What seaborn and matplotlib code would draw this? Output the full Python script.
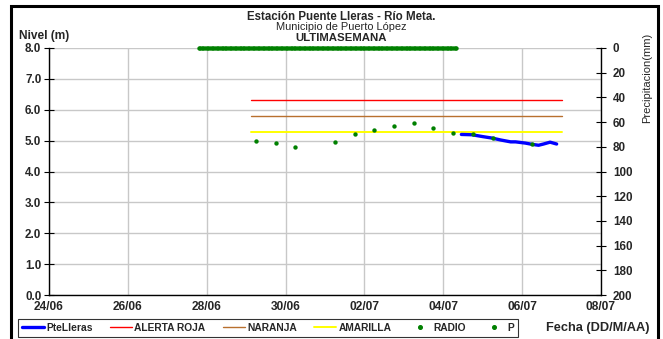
import matplotlib
matplotlib.use("Agg")
import matplotlib.pyplot as plt
import matplotlib.dates as mdates
import seaborn as sns
import pandas as pd
from matplotlib.lines import Line2D
from matplotlib.patches import Rectangle

sns.set_theme(style="white")
plt.rcParams['font.family'] = ['Liberation Sans', 'DejaVu Sans']

# ---------------- data ----------------
x_start = "2024-06-24"
x_end = "2024-07-08"

# PteLleras (automatic station level, m)
ptelleras_times = ["2024-07-04 11:00", "2024-07-04 17:30", "2024-07-05 00:00",
                   "2024-07-05 06:00", "2024-07-05 11:00", "2024-07-05 17:00",
                   "2024-07-05 20:00", "2024-07-06 02:00", "2024-07-06 06:00",
                   "2024-07-06 10:00", "2024-07-06 13:00", "2024-07-06 17:00",
                   "2024-07-06 21:00"]
ptelleras_level = [5.20, 5.19, 5.13, 5.08, 5.02, 4.96, 4.96, 4.92, 4.88,
                   4.85, 4.89, 4.95, 4.89]

# Alert thresholds (m)
threshold_times = ["2024-06-29 03:00", "2024-07-07 00:00"]
alerta_roja = [6.30, 6.30]
naranja = [5.80, 5.80]
amarilla = [5.27, 5.27]

# RADIO readings (m)
radio_times = ["2024-06-29 06:00", "2024-06-29 18:00", "2024-06-30 06:00",
               "2024-07-01 06:00", "2024-07-01 18:00", "2024-07-02 06:00",
               "2024-07-02 18:00", "2024-07-03 06:00", "2024-07-03 18:00",
               "2024-07-04 06:00", "2024-07-04 18:00", "2024-07-05 06:00",
               "2024-07-06 06:00"]
radio_level = [4.99, 4.91, 4.78, 4.96, 5.20, 5.33, 5.48, 5.58, 5.41,
               5.24, 5.20, 5.08, 4.89]

# P precipitation (mm), hourly, all zero
p_times = pd.date_range("2024-06-27 19:00", "2024-07-04 08:00", freq="h")
p_mm = [0.0] * len(p_times)

level_ticks = [0, 1, 2, 3, 4, 5, 6, 7, 8]
precip_ticks = [0, 20, 40, 60, 80, 100, 120, 140, 160, 180, 200]

# ---------------- figure ----------------
W, H = 663, 339
fig = plt.figure(figsize=(W / 100, H / 100), dpi=100)
fig.patch.set_facecolor("white")

L, R, T, B = 49, 601, 48, 295
ax = fig.add_axes([L / W, 1 - B / H, (R - L) / W, (B - T) / H])
ax2 = ax.twinx()

grid_c = "#c8c8c8"

def dt(v):
    return pd.to_datetime(pd.Series(v))

sns.lineplot(x=dt(threshold_times), y=alerta_roja, ax=ax, color="#ff0000", linewidth=1.0)
sns.lineplot(x=dt(threshold_times), y=naranja, ax=ax, color="#b8702e", linewidth=1.0)
sns.lineplot(x=dt(threshold_times), y=amarilla, ax=ax, color="#ffff00", linewidth=1.4)
sns.scatterplot(x=dt(radio_times), y=radio_level, ax=ax, color="#008000", s=10,
                linewidth=0, zorder=4)
sns.lineplot(x=dt(ptelleras_times), y=ptelleras_level, ax=ax, color="#0000ff",
             linewidth=2.4, zorder=3)
sns.scatterplot(x=p_times, y=p_mm, ax=ax2, color="#008000", s=10, linewidth=0,
                zorder=5, clip_on=False)

ax.set_xlim(pd.Timestamp(x_start), pd.Timestamp(x_end))
ax.set_ylim(0, 8)
ax.set_yticks(level_ticks)
ax.set_yticklabels([f"{v:.1f}" for v in level_ticks])
ax.set_xticks(pd.date_range(x_start, x_end, freq="2D"))
ax.xaxis.set_major_formatter(mdates.DateFormatter("%d/%m"))
ax.set_xlabel("")
ax.set_ylabel("")

ax2.set_ylim(200, 0)
ax2.set_yticks(precip_ticks)
ax2.set_ylabel("")

ax.grid(True, color=grid_c, linewidth=1.0)
ax.set_axisbelow(True)

for a in (ax, ax2):
    for s in a.spines.values():
        s.set_visible(False)
ax.spines["left"].set_visible(True)
ax.spines["bottom"].set_visible(True)
ax2.spines["right"].set_visible(True)
for s in (ax.spines["left"], ax.spines["bottom"], ax2.spines["right"]):
    s.set_color("black")
    s.set_linewidth(1.0)

ax.tick_params(axis="y", direction="inout", length=7, width=0.8, color="black",
               pad=2, labelsize=8.4, left=True)
ax.tick_params(axis="x", length=0, pad=4, labelsize=8.6)
ax2.tick_params(axis="y", direction="inout", length=7, width=0.8, color="black",
                pad=5, labelsize=8.4, right=True)
for lab in ax.get_xticklabels() + ax.get_yticklabels() + ax2.get_yticklabels():
    lab.set_fontweight("bold")

# titles
fig.text(341 / W, 1 - 16.5 / H, "Estación Puente Lleras - Río Meta.", ha="center",
         va="center", fontsize=8.3, fontweight="bold")
fig.text(341 / W, 1 - 27.5 / H, "Municipio de Puerto López", ha="center",
         va="center", fontsize=7.9)
fig.text(341 / W, 1 - 38.3 / H, "ULTIMASEMANA", ha="center", va="center",
         fontsize=8.2, fontweight="bold")
fig.text(19 / W, 1 - 36 / H, "Nivel (m)", ha="left", va="center", fontsize=8.6,
         fontweight="bold")
fig.text(647 / W, 1 - 78 / H, "Precipitacion(mm)", ha="center", va="center",
         fontsize=8.0, rotation=90)
fig.text(598 / W, 1 - 328 / H, "Fecha (DD/M/AA)", ha="center", va="center",
         fontsize=9.2, fontweight="bold")

# legend
handles = [
    Line2D([], [], color="#0000ff", lw=2.4),
    Line2D([], [], color="#ff0000", lw=1.0),
    Line2D([], [], color="#b8702e", lw=1.0),
    Line2D([], [], color="#ffff00", lw=1.4),
    Line2D([], [], color="#008000", marker="o", ms=2.6, ls="none"),
    Line2D([], [], color="#008000", marker="o", ms=2.6, ls="none"),
]
labels = ["PteLleras", "ALERTA ROJA", "NARANJA", "AMARILLA", "RADIO", "P"]
leg = fig.legend(handles, labels, loc="center", bbox_to_anchor=(268 / W, 1 - 328 / H),
                 ncol=6, frameon=True, fancybox=False, edgecolor="black",
                 prop=dict(size=7.4, weight="bold"), handlelength=2.1,
                 handletextpad=0.25, columnspacing=1.7, borderpad=0.35,
                 borderaxespad=0)
leg.get_frame().set_linewidth(0.8)

# outer frame
fig.patches.append(Rectangle((11 / W, -0.02), (658 - 11) / W, 1.02 - 6 / H,
                             transform=fig.transFigure, fill=False,
                             edgecolor="black", linewidth=2.2))

fig.savefig("out.png", dpi=100)
